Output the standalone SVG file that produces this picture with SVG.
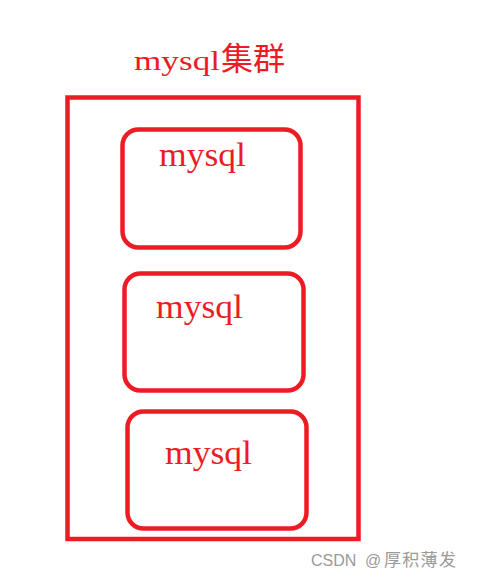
<svg xmlns="http://www.w3.org/2000/svg" width="479" height="579" viewBox="0 0 479 579">
<style>
.frame{fill:none;stroke:#ED1C24;stroke-width:4.5}
.lbl{fill:#ED1C24;font-family:"Liberation Serif","Noto Sans CJK SC",serif;font-size:34px}
.ttl{fill:#ED1C24;font-family:"Liberation Serif","Noto Sans CJK SC",serif;font-size:27px}
.cjk{fill:#ED1C24;font-family:"Noto Sans CJK SC",sans-serif;font-size:32px}
.wm{fill:#9a9a9a;font-family:"Liberation Sans","Noto Sans CJK SC",sans-serif}
</style>
<rect width="479" height="579" fill="#fff"/>
<g id="cluster">
<rect class="frame" x="67.5" y="97.5" width="291" height="441.5"/>
<text class="ttl" x="134" y="69.5" textLength="86" lengthAdjust="spacingAndGlyphs">mysql</text>
<text class="cjk" x="221" y="70">集群</text>
</g>
<g id="node1">
<rect class="frame" x="122.5" y="129.5" width="178" height="118" rx="16"/>
<text class="lbl" x="159" y="166" textLength="87" lengthAdjust="spacingAndGlyphs">mysql</text>
</g>
<g id="node2">
<rect class="frame" x="124.5" y="273.5" width="179" height="117" rx="16"/>
<text class="lbl" x="156" y="318" textLength="87" lengthAdjust="spacingAndGlyphs">mysql</text>
</g>
<g id="node3">
<rect class="frame" x="127.5" y="411.5" width="179" height="117" rx="16"/>
<text class="lbl" x="165" y="464" textLength="87" lengthAdjust="spacingAndGlyphs">mysql</text>
</g>
<g id="connectors"></g>
<text class="wm" y="566"><tspan x="311" font-size="16">CSDN</tspan><tspan x="365" font-size="16">@</tspan><tspan x="384" font-size="17" letter-spacing="1.3">厚积薄发</tspan></text>
</svg>
